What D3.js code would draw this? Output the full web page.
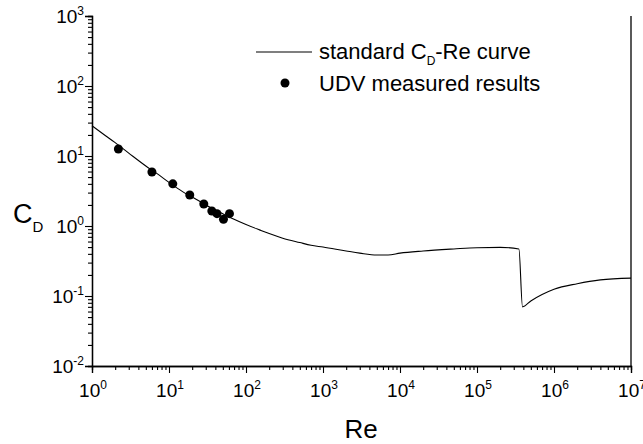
<!DOCTYPE html>
<html>
<head>
<meta charset="utf-8">
<script src="https://cdn.jsdelivr.net/npm/d3@7"></script>
<style>
  body { margin: 0; background: #fff; }
  svg { display: block; font-family: "Liberation Sans", Arial, sans-serif; }
</style>
</head>
<body>
<svg id="chart" width="643" height="444"></svg>
<script>
// ---------- Data ----------

// standard C_D-Re curve
const curveRe = [1, 1.5, 2, 3, 5, 7, 10, 15, 20, 30, 50, 70, 100, 150, 200, 300, 500, 700,
  1000, 2000, 3000, 5000, 7000, 10000, 20000, 50000, 100000, 200000, 350000,
  390000, 500000, 700000, 1000000, 2000000, 4000000, 10000000];
const curveCd = [27, 19.5, 15.5, 11, 7.2, 5.6, 4.2, 3.1, 2.6, 2.0, 1.5, 1.25, 1.05, 0.88, 0.78, 0.67, 0.58, 0.53,
  0.5, 0.44, 0.41, 0.385, 0.385, 0.41, 0.44, 0.47, 0.49, 0.495, 0.47,
  0.07, 0.085, 0.105, 0.125, 0.15, 0.17, 0.18];

// UDV measured results
const udvRe = [2.2, 6.0, 11.2, 18.6, 28.3, 36, 42, 51, 61];
const udvCd = [12.6, 5.9, 4.0, 2.77, 2.06, 1.64, 1.5, 1.25, 1.5];

const xExponents = [0, 1, 2, 3, 4, 5, 6, 7];
const yExponents = [-2, -1, 0, 1, 2, 3];

// ---------- Layout ----------
const plotLeft = 92, plotRight = 631, plotTop = 16, plotBottom = 366;

const svg = d3.select("#chart");

const x = d3.scaleLog().domain([1, 1e7]).range([plotLeft, plotRight]);
const y = d3.scaleLog().domain([1e-2, 1e3]).range([plotBottom, plotTop]);

// minor ticks 2..9 in each decade
function minorTicks(lo, hi) {
  const out = [];
  for (let e = lo; e < hi; e++) {
    for (let k = 2; k <= 9; k++) out.push(k * Math.pow(10, e));
  }
  return out;
}

const xMajor = xExponents.map((e) => Math.pow(10, e));
const yMajor = yExponents.map((e) => Math.pow(10, e));

// x axis: minor then major ticks
const gx = svg.append("g").attr("transform", `translate(0,${plotBottom})`);
gx.append("g")
  .call(d3.axisBottom(x).tickValues(minorTicks(0, 7)).tickSize(4).tickFormat(""));
gx.append("g")
  .call(d3.axisBottom(x).tickValues(xMajor).tickSize(7).tickFormat(""));

// y axis
const gy = svg.append("g").attr("transform", `translate(${plotLeft},0)`);
gy.append("g")
  .call(d3.axisLeft(y).tickValues(minorTicks(-2, 3)).tickSize(4).tickFormat(""));
gy.append("g")
  .call(d3.axisLeft(y).tickValues(yMajor).tickSize(7).tickFormat(""));

svg.selectAll(".domain").attr("stroke", "#000").attr("stroke-width", 1.3);
svg.selectAll(".tick line").attr("stroke", "#000").attr("stroke-width", 1.1);

// right border line
svg.append("line")
  .attr("x1", plotRight).attr("x2", plotRight)
  .attr("y1", plotTop).attr("y2", plotBottom)
  .attr("stroke", "#000").attr("stroke-width", 1.3);

// tick labels as 10 with superscript
function powerLabel(sel, e) {
  sel.append("tspan").text("10");
  sel.append("tspan")
    .attr("dy", -8)
    .attr("font-size", 12)
    .text(e);
}

xExponents.forEach((e) => {
  const t = svg.append("text")
    .attr("x", x(Math.pow(10, e)) + 1)
    .attr("y", plotBottom + 31)
    .attr("text-anchor", "middle")
    .attr("font-size", 19)
    .attr("fill", "#000");
  powerLabel(t, e);
});

yExponents.forEach((e) => {
  const t = svg.append("text")
    .attr("x", plotLeft - 8)
    .attr("y", y(Math.pow(10, e)) + 7)
    .attr("text-anchor", "end")
    .attr("font-size", 19)
    .attr("fill", "#000");
  powerLabel(t, e);
});

// axis titles
svg.append("text")
  .attr("x", 361).attr("y", 438)
  .attr("text-anchor", "middle")
  .attr("font-size", 26)
  .text("Re");

const cd = svg.append("text")
  .attr("x", 13).attr("y", 223)
  .attr("font-size", 27);
cd.append("tspan").text("C");
cd.append("tspan").attr("dy", 9).attr("font-size", 15).text("D");

// ---------- Marks ----------
const curvePts = curveRe.map((r, i) => [r, curveCd[i]]);
const line = d3.line()
  .x((d) => x(d[0]))
  .y((d) => y(d[1]))
  .curve(d3.curveMonotoneX);

svg.append("path")
  .datum(curvePts)
  .attr("fill", "none")
  .attr("stroke", "#000")
  .attr("stroke-width", 1.1)
  .attr("d", line);

const udv = udvRe.map((r, i) => ({ re: r, cd: udvCd[i] }));
svg.selectAll("circle.udv")
  .data(udv)
  .join("circle")
  .attr("class", "udv")
  .attr("cx", (d) => x(d.re))
  .attr("cy", (d) => y(d.cd))
  .attr("r", 4.5)
  .attr("fill", "#000");

// ---------- Legend ----------
const lg = svg.append("g");
lg.append("line")
  .attr("x1", 256).attr("x2", 312)
  .attr("y1", 52).attr("y2", 52)
  .attr("stroke", "#000").attr("stroke-width", 1.1);
const l1 = lg.append("text")
  .attr("x", 319).attr("y", 59)
  .attr("font-size", 22);
l1.append("tspan").text("standard C");
l1.append("tspan").attr("dy", 6).attr("font-size", 12).text("D");
l1.append("tspan").attr("dy", -6).text("-Re curve");

lg.append("circle")
  .attr("cx", 285).attr("cy", 83)
  .attr("r", 4.5).attr("fill", "#000");
lg.append("text")
  .attr("x", 319).attr("y", 91)
  .attr("font-size", 22)
  .text("UDV measured results");
</script>
</body>
</html>
